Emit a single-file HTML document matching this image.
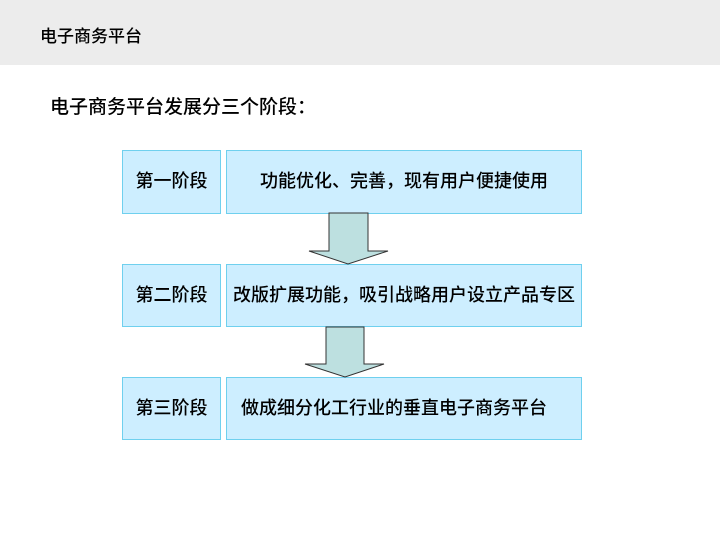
<!DOCTYPE html>
<html><head><meta charset="utf-8"><style>
body{margin:0;width:720px;height:540px;background:#fff;position:relative;overflow:hidden;font-family:"Liberation Sans","Noto Sans CJK SC",sans-serif;color:#000}
.hdr{position:absolute;left:0;top:0;width:720px;height:65px;background:#ececec}
.t{position:absolute;white-space:nowrap}
.b{position:absolute;background:#cdeeff;border:1px solid #6fd0ee;box-sizing:border-box;display:flex;align-items:center;justify-content:center;font-size:18px;font-weight:500;padding-bottom:4px}
</style></head><body>
<div class="hdr"></div>
<div class="t" style="left:40px;top:22px;font-size:17px;font-weight:500">电子商务平台</div>
<div class="t" style="left:50px;top:92px;font-size:19px;font-weight:500">电子商务平台发展分三个阶段：</div>

<div class="b" style="left:122px;top:150px;width:99px;height:64px">第一阶段</div>
<div class="b" style="left:226px;top:150px;width:356px;height:64px">功能优化、完善，现有用户便捷使用</div>
<div class="b" style="left:122px;top:264px;width:99px;height:63px">第二阶段</div>
<div class="b" style="left:226px;top:264px;width:356px;height:63px">改版扩展功能，吸引战略用户设立产品专区</div>
<div class="b" style="left:122px;top:377px;width:99px;height:63px">第三阶段</div>
<div class="b" style="left:226px;top:377px;width:356px;height:63px;justify-content:flex-start;padding-left:14px">做成细分化工行业的垂直电子商务平台</div>

<svg style="position:absolute;left:0;top:0" width="720" height="540">
<polygon points="329,213 368,213 368,251 388,251 348,264 309,251 329,251" fill="#bde0e0" stroke="#333" stroke-width="1"/>
<polygon points="326,327 364,327 364,364 384,364 345,377 305,364 326,364" fill="#bde0e0" stroke="#333" stroke-width="1"/>
</svg>
</body></html>
